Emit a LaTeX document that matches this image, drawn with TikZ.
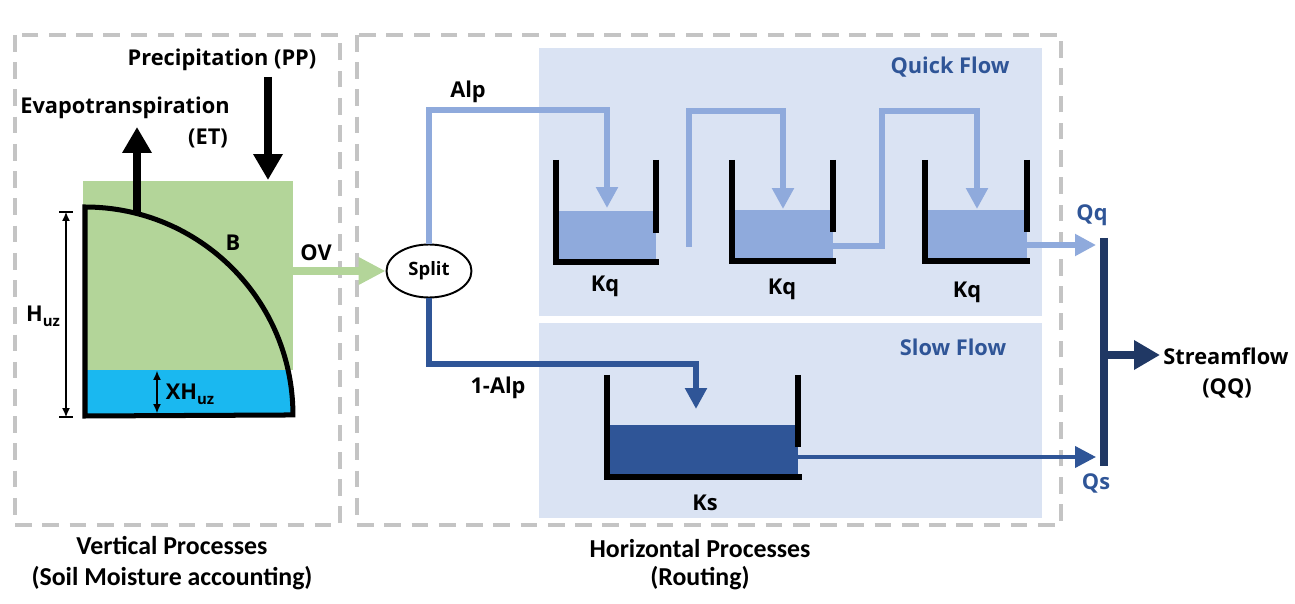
\documentclass[tikz,border=0pt]{standalone}
\usepackage{fontspec}
\setmainfont{Open Sans}
\newfontfamily\calib{Carlito}
\usetikzlibrary{arrows.meta,shapes.geometric}
\definecolor{soilgreen}{HTML}{B3D599}
\definecolor{soilblue}{HTML}{1AB8F0}
\definecolor{panel}{HTML}{DAE3F3}
\definecolor{qblue}{HTML}{8FAADC}
\definecolor{sblue}{HTML}{2F5597}
\definecolor{navy}{HTML}{203864}
\definecolor{dashgrey}{HTML}{C4C4C4}
\newcommand{\uzsub}{\raisebox{-0.45ex}{\fontsize{8.5}{9}\selectfont uz}}
\begin{document}
\begin{tikzpicture}[x=0.02cm,y=-0.02cm,
  lab/.style={font=\fontsize{12.4}{14}\selectfont\bfseries, inner sep=0pt},
  blab/.style={lab, text=sblue},
  botlab/.style={font=\calib\fontsize{14.7}{17}\selectfont\bfseries, inner sep=0pt},
  dashbox/.style={draw=dashgrey, line width=2.2pt, dash pattern=on 9.5pt off 6pt},
  wall/.style={line width=3.4pt, black, line join=miter},
  qpipe/.style={draw=qblue, line width=3.4pt, line join=miter},
  spipe/.style={draw=sblue, line width=3.4pt, line join=miter},
  smallhead/.style={-{Triangle[width=0.42cm,length=0.42cm]}},
  bighead/.style={-{Triangle[width=0.56cm,length=0.52cm]}},
  dimarrow/.style={line width=0.6pt, {Latex[width=0.16cm,length=0.18cm]}-{Latex[width=0.16cm,length=0.18cm]}},
]
\useasboundingbox (0,0) rectangle (1295,604);

% background panels
\fill[panel] (539,48) rectangle (1042,316);
\fill[panel] (539,323) rectangle (1042,518);

% dashed frames
\draw[dashbox] (15,35) rectangle (340,525);
\draw[dashbox] (357,35) rectangle (1061,525);

% soil moisture reservoir
\fill[soilgreen] (83,181) rectangle (293,370);
\begin{scope}
  \clip (85,416) circle[radius=4.16cm];
  \fill[soilblue] (85,370) rectangle (293,416);
\end{scope}
\draw[line width=2.85pt, line join=miter] (85,416) -- (85,207) arc[start angle=90, end angle=0, radius=4.16cm] -- cycle;

% dimension arrows
\coordinate (hTop) at (66,212);
\coordinate (hBot) at (66,417);
\draw[dimarrow] (hTop) -- (hBot);
\draw[line width=0.6pt] (59,212) -- (73,212);
\draw[line width=0.6pt] (59,417) -- (73,417);
\coordinate (xTop) at (157,371);
\coordinate (xBot) at (157,413);
\draw[dimarrow] (xTop) -- (xBot);

% labels left part
\node[lab] (pp) at (222,60) {Precipitation (PP)};
\node[lab] (et) at (125,108) {Evapotranspiration};
\node[lab] (etb) at (208,138) {(ET)};
\node[lab] (bl) at (233,243) {B};
\node[lab] (ov) at (316,253) {OV};
\node[lab] (huz) at (43,316) {H\uzsub};
\node[lab] (xhuz) at (190,394) {XH\uzsub};

% ET and PP arrows
\coordinate (etStart) at (137,213);
\coordinate (etEnd) at (137,127);
\draw[line width=4.5pt, bighead] (etStart) -- (etEnd);
\coordinate (ppStart) at (268,77);
\coordinate (ppEnd) at (268,180);
\draw[line width=4.5pt, bighead] (ppStart) -- (ppEnd);

% split node
\node[ellipse, draw, line width=1.1pt, fill=white, minimum width=1.7cm, minimum height=1.06cm, inner sep=0pt,
      font=\fontsize{10.5}{12}\selectfont\bfseries] (split) at (429,271) {Split};

% OV arrow
\coordinate (ovStart) at (293,271);
\draw[draw=soilgreen, line width=4.5pt, -{Triangle[width=0.52cm,length=0.54cm]}] (ovStart) -- (split.west);

% tanks - quick flow
\fill[qblue] (559,211) rectangle (656,259);
\draw[wall] (556,160) -- (556,262) -- (659,262);
\draw[wall] (656,160) -- (656,233);
\fill[qblue] (735,210) rectangle (833,258);
\draw[wall] (732,160) -- (732,261) -- (836,261);
\draw[wall] (833,160) -- (833,232);
\fill[qblue] (928,210) rectangle (1027,258);
\draw[wall] (925,160) -- (925,261) -- (1030,261);
\draw[wall] (1027,160) -- (1027,232);
% tank - slow flow
\fill[sblue] (610,425) rectangle (798,474);
\draw[wall] (607,375) -- (607,477) -- (802,477);
\draw[wall] (798,375) -- (798,447);

% quick flow pipes
\coordinate (a1) at (607,110);
\coordinate (t1in) at (607,208);
\draw[qpipe, smallhead] (split.north) -- (split.north |- a1) -- (a1) -- (t1in);
\coordinate (p2s) at (689,247);
\coordinate (p2a) at (689,111);
\coordinate (p2b) at (783,111);
\coordinate (t2in) at (783,209);
\draw[qpipe, smallhead] (p2s) -- (p2a) -- (p2b) -- (t2in);
\coordinate (t2out) at (833,246);
\coordinate (p3a) at (882,246);
\coordinate (p3b) at (882,111);
\coordinate (p3c) at (977,111);
\coordinate (t3in) at (977,209);
\draw[qpipe, smallhead] (t2out) -- (p3a) -- (p3b) -- (p3c) -- (t3in);
\coordinate (t3out) at (1027,245);
\coordinate (qqEnd) at (1096,245);
\draw[draw=qblue, line width=2.85pt, smallhead] (t3out) -- (qqEnd);

% slow flow pipes
\coordinate (s1) at (696,364);
\coordinate (ksin) at (696,409);
\draw[spipe, smallhead] (split.south) -- (split.south |- s1) -- (s1) -- (ksin);
\coordinate (ksout) at (798,457);
\coordinate (qsEnd) at (1096,457);
\draw[draw=sblue, line width=2.3pt, smallhead] (ksout) -- (qsEnd);

% streamflow collector
\coordinate (barT) at (1104,238);
\coordinate (barB) at (1104,466);
\draw[draw=navy, line width=4pt] (barT) -- (barB);
\coordinate (barM) at (1104,355);
\coordinate (sfEnd) at (1160,355);
\draw[draw=navy, line width=4.5pt, bighead] (barM) -- (sfEnd);

% labels right part
\node[lab] (alp) at (468,92) {Alp};
\node[lab] (alp1) at (498,388) {1-Alp};
\node[lab] (kq1) at (605,286) {Kq};
\node[lab] (kq2) at (782,289) {Kq};
\node[lab] (kq3) at (967,292) {Kq};
\node[lab] (ks) at (705,503) {Ks};
\node[blab] (quick) at (950,67) {Quick Flow};
\node[blab] (slow) at (953,347) {Slow Flow};
\node[blab] (qq) at (1092,215) {Qq};
\node[blab] (qs) at (1096,483) {Qs};
\node[lab, anchor=west] (sf) at (1163,356) {Streamflow};
\node[lab] (sfq) at (1227,388) {(QQ)};

% bottom captions
\node[botlab] (vp) at (172,546) {Vertical Processes};
\node[botlab] (vp2) at (172,578) {(Soil Moisture accounting)};
\node[botlab] (hp) at (700,549) {Horizontal Processes};
\node[botlab] (hp2) at (700,578) {(Routing)};
\end{tikzpicture}
\end{document}
